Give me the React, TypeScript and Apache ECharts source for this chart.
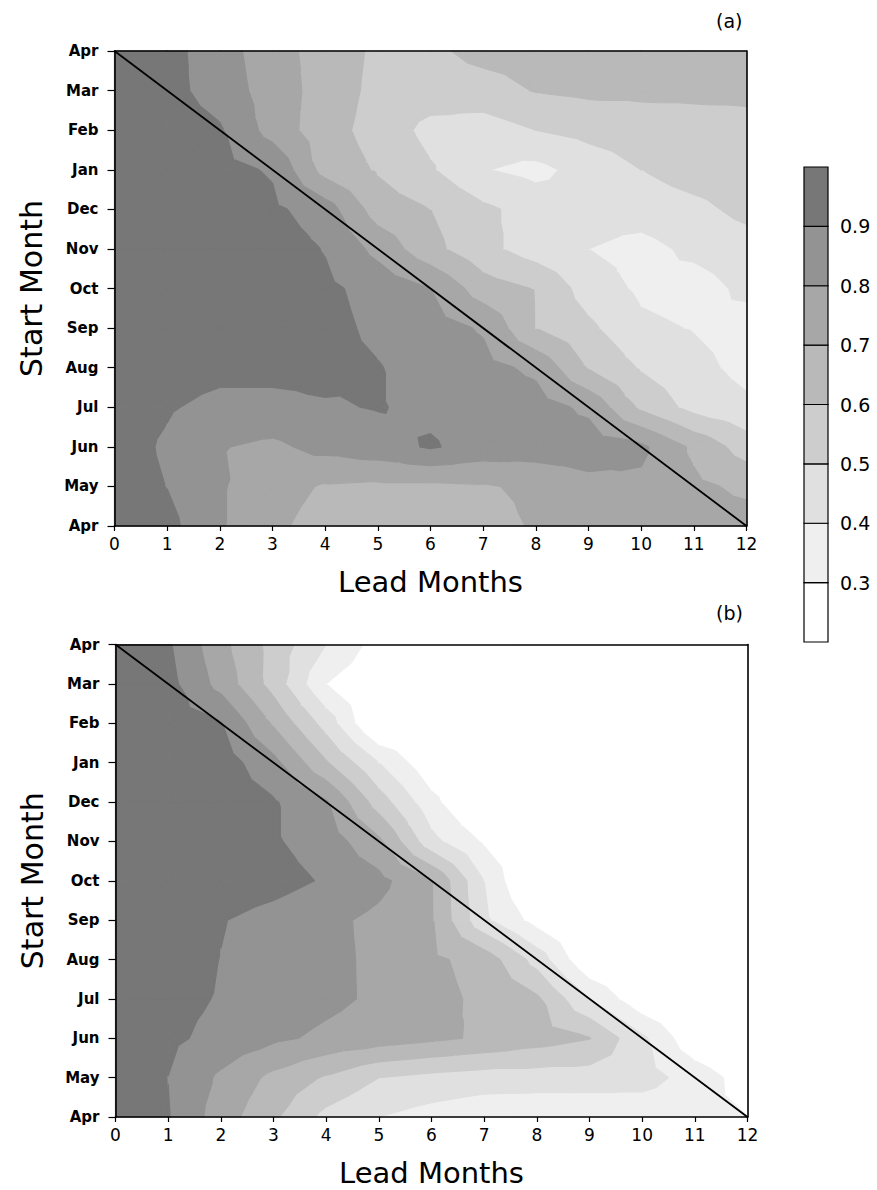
import React, { useEffect, useRef } from 'react';
import * as echarts from 'echarts';

// ---- axes ----
const LEAD_MONTHS = [0, 1, 2, 3, 4, 5, 6, 7, 8, 9, 10, 11, 12];
const START_MONTHS = ['Apr', 'May', 'Jun', 'Jul', 'Aug', 'Sep', 'Oct', 'Nov', 'Dec', 'Jan', 'Feb', 'Mar', 'Apr'];

// ---- contour levels and shades ----
const LEVELS = [0.3, 0.4, 0.5, 0.6, 0.7, 0.8, 0.9];
const BAND_COLORS = ['#ffffff', '#efefef', '#e0e0e0', '#cdcdcd', '#b9b9b9', '#a7a7a7', '#939393', '#777777'];
const COLORBAR_EDGES = [0.2, 0.3, 0.4, 0.5, 0.6, 0.7, 0.8, 0.9, 1.0];
const COLORBAR_LABELS = ['0.3', '0.4', '0.5', '0.6', '0.7', '0.8', '0.9'];

// ---- skill values: rows = start month (Apr bottom .. Apr top), columns = lead 0..12 ----
const SKILL_A = [
  [0.95, 0.93, 0.81, 0.72, 0.66, 0.64, 0.64, 0.66, 0.71, 0.74, 0.75, 0.74, 0.74],
  [0.95, 0.898, 0.81, 0.74, 0.69, 0.68, 0.68, 0.69, 0.72, 0.77, 0.78, 0.72, 0.68],
  [0.95, 0.885, 0.805, 0.78, 0.83, 0.86, 0.91, 0.86, 0.85, 0.85, 0.82, 0.68, 0.55],
  [0.95, 0.91, 0.87, 0.87, 0.89, 0.905, 0.88, 0.86, 0.84, 0.78, 0.58, 0.466, 0.42],
  [0.96, 0.95, 0.93, 0.93, 0.93, 0.905, 0.86, 0.83, 0.78, 0.594, 0.49, 0.43, 0.37],
  [0.97, 0.96, 0.95, 0.94, 0.93, 0.88, 0.84, 0.79, 0.60, 0.52, 0.42, 0.395, 0.36],
  [0.97, 0.97, 0.96, 0.95, 0.92, 0.865, 0.80, 0.646, 0.595, 0.453, 0.382, 0.36, 0.42],
  [0.97, 0.97, 0.96, 0.95, 0.895, 0.77, 0.63, 0.53, 0.45, 0.40, 0.37, 0.42, 0.45],
  [0.97, 0.97, 0.96, 0.92, 0.85, 0.65, 0.60, 0.52, 0.46, 0.44, 0.44, 0.47, 0.53],
  [0.97, 0.96, 0.93, 0.89, 0.66, 0.59, 0.51, 0.405, 0.37, 0.44, 0.50, 0.55, 0.57],
  [0.97, 0.95, 0.91, 0.76, 0.64, 0.56, 0.47, 0.45, 0.50, 0.53, 0.55, 0.56, 0.57],
  [0.97, 0.93, 0.86, 0.75, 0.66, 0.57, 0.55, 0.56, 0.605, 0.62, 0.62, 0.62, 0.62],
  [0.97, 0.93, 0.85, 0.734, 0.665, 0.578, 0.58, 0.63, 0.64, 0.65, 0.65, 0.64, 0.63],
];

const SKILL_B = [
  [0.95, 0.905, 0.75, 0.616, 0.47, 0.40, 0.36, 0.33, 0.32, 0.32, 0.33, 0.32, 0.30],
  [0.95, 0.899, 0.782, 0.674, 0.588, 0.50, 0.47, 0.45, 0.45, 0.45, 0.44, 0.36, 0.25],
  [0.96, 0.92, 0.87, 0.818, 0.78, 0.75, 0.72, 0.686, 0.645, 0.604, 0.42, 0.22, 0.15],
  [0.96, 0.93, 0.893, 0.858, 0.823, 0.783, 0.732, 0.678, 0.618, 0.40, 0.22, 0.15, 0.14],
  [0.96, 0.95, 0.898, 0.861, 0.824, 0.781, 0.72, 0.66, 0.46, 0.20, 0.14, 0.13, 0.13],
  [0.97, 0.96, 0.905, 0.865, 0.825, 0.775, 0.707, 0.42, 0.26, 0.18, 0.14, 0.13, 0.13],
  [0.97, 0.97, 0.96, 0.935, 0.89, 0.83, 0.705, 0.40, 0.14, 0.13, 0.13, 0.13, 0.13],
  [0.97, 0.97, 0.96, 0.91, 0.855, 0.72, 0.43, 0.286, 0.18, 0.15, 0.14, 0.14, 0.14],
  [0.97, 0.97, 0.96, 0.91, 0.81, 0.55, 0.33, 0.16, 0.15, 0.14, 0.14, 0.14, 0.14],
  [0.97, 0.96, 0.95, 0.83, 0.61, 0.40, 0.22, 0.17, 0.15, 0.15, 0.14, 0.14, 0.14],
  [0.97, 0.95, 0.905, 0.687, 0.457, 0.17, 0.16, 0.15, 0.15, 0.15, 0.14, 0.14, 0.14],
  [0.97, 0.933, 0.765, 0.56, 0.30, 0.22, 0.19, 0.18, 0.17, 0.16, 0.16, 0.15, 0.15],
  [0.96, 0.913, 0.73, 0.564, 0.40, 0.257, 0.22, 0.20, 0.19, 0.18, 0.17, 0.16, 0.15],
];

// persistence diagonal: lead 0 at top Apr to lead 12 at bottom Apr
const DIAGONAL = [[0, 12], [12, 0]];

const FONT = 'DejaVu Sans';

function clip(poly: number[][], L: number, keepAbove: boolean) {
  const out: number[][] = [];
  const n = poly.length;
  for (let k = 0; k < n; k++) {
    const a = poly[k];
    const b = poly[(k + 1) % n];
    const ain = keepAbove ? a[2] >= L : a[2] <= L;
    const bin = keepAbove ? b[2] >= L : b[2] <= L;
    if (ain) out.push(a);
    if (ain !== bin) {
      const t = (L - a[2]) / (b[2] - a[2]);
      out.push([a[0] + t * (b[0] - a[0]), a[1] + t * (b[1] - a[1]), L]);
    }
  }
  return out;
}

function makeContourRender(g: number[][]) {
  return (params: any, api: any) => {
    const i = api.value(0);
    const j = api.value(1);
    const a = [LEAD_MONTHS[i], j, g[j][i]];
    const b = [LEAD_MONTHS[i + 1], j, g[j][i + 1]];
    const c = [LEAD_MONTHS[i + 1], j + 1, g[j + 1][i + 1]];
    const d = [LEAD_MONTHS[i], j + 1, g[j + 1][i]];
    const m = [(a[0] + b[0]) / 2, j + 0.5, (a[2] + b[2] + c[2] + d[2]) / 4];
    const tris = [[a, b, m], [b, c, m], [c, d, m], [d, a, m]];
    const children: any[] = [];
    for (const t of tris) {
      const vals = t.map((q) => q[2]);
      const vmin = Math.min(...vals);
      const vmax = Math.max(...vals);
      for (let k = 0; k < BAND_COLORS.length; k++) {
        const lo = k === 0 ? -Infinity : LEVELS[k - 1];
        const hi = k === LEVELS.length ? Infinity : LEVELS[k];
        if (vmax < lo || vmin > hi) continue;
        let poly: number[][] = t;
        if (lo > -Infinity) poly = clip(poly, lo, true);
        if (poly.length >= 3 && hi < Infinity) poly = clip(poly, hi, false);
        if (poly.length < 3) continue;
        const pts = poly.map((q) => api.coord([q[0], q[1]]));
        children.push({
          type: 'polygon',
          shape: { points: pts },
          style: { fill: BAND_COLORS[k], stroke: BAND_COLORS[k], lineWidth: 1.2, lineJoin: 'round' },
          silent: true,
        });
      }
    }
    return { type: 'group', children };
  };
}

function cells() {
  const out: number[][] = [];
  for (let j = 0; j < START_MONTHS.length - 1; j++) {
    for (let i = 0; i < LEAD_MONTHS.length - 1; i++) out.push([i, j]);
  }
  return out;
}

function xAxes(gridIndex: number) {
  return [
    {
      gridIndex,
      type: 'value',
      min: 0,
      max: 12,
      interval: 1,
      z: 5,
      axisLine: { show: true, onZero: false, lineStyle: { color: '#000', width: 1.6 } },
      axisTick: { show: true, length: 5, lineStyle: { color: '#000', width: 1.2 } },
      axisLabel: { fontSize: 17, margin: 9, color: '#000', fontFamily: FONT },
      splitLine: { show: false },
      name: 'Lead Months',
      nameLocation: 'middle',
      nameGap: 41,
      nameTextStyle: { fontSize: 29, color: '#000', fontFamily: FONT },
    },
    {
      gridIndex,
      type: 'value',
      position: 'top',
      min: 0,
      max: 12,
      interval: 1,
      z: 5,
      axisLine: { show: true, onZero: false, lineStyle: { color: '#000', width: 1.6 } },
      axisTick: { show: false },
      axisLabel: { show: false },
      splitLine: { show: false },
    },
  ];
}

function yAxes(gridIndex: number) {
  return [
    {
      gridIndex,
      type: 'value',
      min: 0,
      max: 12,
      interval: 1,
      z: 5,
      axisLine: { show: true, onZero: false, lineStyle: { color: '#000', width: 1.6 } },
      axisTick: { show: true, length: 7, lineStyle: { color: '#000', width: 1.2 } },
      axisLabel: {
        fontSize: 15,
        fontWeight: 'bold',
        margin: 16,
        color: '#000',
        fontFamily: FONT,
        formatter: (v: number) => START_MONTHS[Math.round(v)],
      },
      splitLine: { show: false },
      name: 'Start Month',
      nameLocation: 'middle',
      nameRotate: 90,
      nameGap: 68,
      nameTextStyle: { fontSize: 30, color: '#000', fontFamily: FONT },
    },
    {
      gridIndex,
      type: 'value',
      position: 'right',
      min: 0,
      max: 12,
      interval: 1,
      z: 5,
      axisLine: { show: true, onZero: false, lineStyle: { color: '#000', width: 1.6 } },
      axisTick: { show: false },
      axisLabel: { show: false },
      splitLine: { show: false },
    },
  ];
}

export default function App() {
  const ref = useRef<HTMLDivElement>(null);
  useEffect(() => {
    if (!ref.current) return;
    const chart = echarts.init(ref.current, undefined, { renderer: 'svg' });
    const cellData = cells();
    const option: any = {
      animation: false,
      backgroundColor: '#ffffff',
      title: [
        { text: '(a)', left: 716, top: 11, padding: 0, textStyle: { fontSize: 19, fontWeight: 'normal', color: '#000', fontFamily: FONT } },
        { text: '(b)', left: 716, top: 603, padding: 0, textStyle: { fontSize: 19, fontWeight: 'normal', color: '#000', fontFamily: FONT } },
      ],
      grid: [
        { left: 114.5, top: 51, width: 632, height: 475, outerBoundsMode: 'none' },
        { left: 115.5, top: 644.5, width: 632, height: 472.5, outerBoundsMode: 'none' },
        { left: 804, top: 167, width: 24, height: 475, outerBoundsMode: 'none' },
      ],
      xAxis: [
        ...xAxes(0),
        ...xAxes(1),
        { gridIndex: 2, type: 'value', min: 0, max: 1, show: false },
      ],
      yAxis: [
        ...yAxes(0),
        ...yAxes(1),
        {
          gridIndex: 2,
          type: 'value',
          position: 'right',
          min: 0.2,
          max: 1.0,
          interval: 0.1,
          axisLine: { show: false },
          axisTick: { show: false },
          splitLine: { show: false },
          axisLabel: {
            fontSize: 19,
            margin: 12,
            color: '#000',
            fontFamily: FONT,
            formatter: (v: number) => {
              const s = v.toFixed(1);
              return COLORBAR_LABELS.indexOf(s) >= 0 ? s : '';
            },
          },
        },
      ],
      series: [
        {
          type: 'custom',
          xAxisIndex: 0,
          yAxisIndex: 0,
          data: cellData,
          encode: { x: 0, y: 1 },
          renderItem: makeContourRender(SKILL_A),
          silent: true,
          z: 2,
        },
        {
          type: 'line',
          xAxisIndex: 0,
          yAxisIndex: 0,
          data: DIAGONAL,
          symbol: 'none',
          lineStyle: { color: '#000', width: 1.8 },
          silent: true,
          z: 4,
        },
        {
          type: 'custom',
          xAxisIndex: 2,
          yAxisIndex: 2,
          data: cellData,
          encode: { x: 0, y: 1 },
          renderItem: makeContourRender(SKILL_B),
          silent: true,
          z: 2,
        },
        {
          type: 'line',
          xAxisIndex: 2,
          yAxisIndex: 2,
          data: DIAGONAL,
          symbol: 'none',
          lineStyle: { color: '#000', width: 1.8 },
          silent: true,
          z: 4,
        },
        {
          type: 'custom',
          xAxisIndex: 4,
          yAxisIndex: 4,
          data: BAND_COLORS.map((c, k) => [0, COLORBAR_EDGES[k], COLORBAR_EDGES[k + 1], k]),
          encode: { x: 0, y: [1, 2] },
          renderItem: (params: any, api: any) => {
            const lo = api.value(1);
            const hi = api.value(2);
            const k = api.value(3);
            const p1 = api.coord([0, hi]);
            const p2 = api.coord([1, lo]);
            return {
              type: 'rect',
              shape: { x: p1[0], y: p1[1], width: p2[0] - p1[0], height: p2[1] - p1[1] },
              style: { fill: BAND_COLORS[k], stroke: '#000', lineWidth: 1.2 },
            };
          },
          silent: true,
        },
      ],
    };
    chart.setOption(option);
    return () => chart.dispose();
  }, []);
  return (
    <div
      ref={ref}
      style={{ position: 'absolute', left: 0, top: 0, width: 877, height: 1190 }}
    />
  );
}
